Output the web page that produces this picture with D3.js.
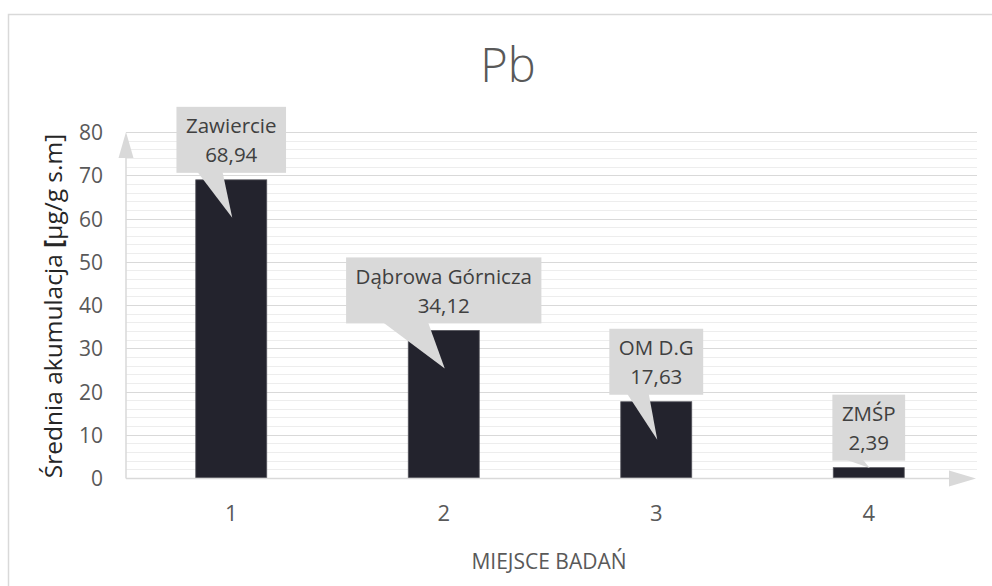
<!DOCTYPE html>
<html>
<head>
<meta charset="utf-8">
<script src="https://cdn.jsdelivr.net/npm/d3@7/dist/d3.min.js"></script>
<style>
  html, body { margin: 0; padding: 0; background: #ffffff; }
  svg { display: block; font-family: "Open Sans", "Noto Sans", sans-serif; }
</style>
</head>
<body>
<svg id="chart" width="992" height="586"></svg>
<script>
// Sampling sites (x categories), mean Pb accumulation and the callout names
const sites = ["1", "2", "3", "4"];
const values = [68.94, 34.12, 17.63, 2.39];
const siteNames = ["Zawiercie", "Dąbrowa Górnicza", "OM D.G", "ZMŚP"];
const yTicks = [0, 10, 20, 30, 40, 50, 60, 70, 80];
const yMinorTicks = d3.range(0, 81, 2);

const chartTitle = "Pb";
const xTitle = "MIEJSCE BADAŃ";
const yTitleParts = ["Średnia akumulacja ", "[", "µg/g s.m]"];

const svg = d3.select("#chart");

const plot = { left: 125, right: 975, top: 132, bottom: 478 };

const x = d3.scaleBand()
  .domain(sites)
  .range([plot.left, plot.right])
  .paddingInner(0.666)
  .paddingOuter(0.333);

const y = d3.scaleLinear()
  .domain([0, 80])
  .range([plot.bottom, plot.top]);

const fmt = v => d3.format(".2f")(v).replace(".", ",");

// Chart area frame
svg.append("path")
  .attr("d", "M8.5,586 V14.5 H992")
  .attr("fill", "none")
  .attr("stroke", "#d9d9d9")
  .attr("stroke-width", 1.5);

// Title
svg.append("text")
  .attr("x", 508)
  .attr("y", 82)
  .attr("text-anchor", "middle")
  .attr("font-size", 47)
  .attr("font-weight", 300)
  .attr("fill", "#595959")
  .text(chartTitle);

// Gridlines: minor every 2, major every 10
const grid = svg.append("g");
grid.selectAll("line.minor")
  .data(yMinorTicks.filter(d => d % 10 !== 0))
  .join("line")
  .attr("class", "minor")
  .attr("x1", plot.left + 1).attr("x2", 977)
  .attr("y1", d => Math.round(y(d)) + 0.5)
  .attr("y2", d => Math.round(y(d)) + 0.5)
  .attr("stroke", "#ededed")
  .attr("stroke-width", 1);
grid.selectAll("line.major")
  .data(yTicks.filter(d => d > 0))
  .join("line")
  .attr("class", "major")
  .attr("x1", plot.left + 1).attr("x2", 977)
  .attr("y1", d => Math.round(y(d)) + 0.5)
  .attr("y2", d => Math.round(y(d)) + 0.5)
  .attr("stroke", "#d9d9d9")
  .attr("stroke-width", 1.2);

// Y axis labels
const yAxis = d3.axisLeft(y).tickValues(yTicks).tickSize(0).tickPadding(0);
const yg = svg.append("g")
  .attr("transform", `translate(${plot.left - 22},0)`)
  .call(yAxis);
yg.select(".domain").remove();
yg.selectAll("text")
  .attr("font-family", "\"Open Sans\", sans-serif")
  .attr("font-size", 21)
  .attr("fill", "#595959")
  .attr("dy", "0.36em");

// X axis labels
const xAxis = d3.axisBottom(x).tickSize(0).tickPadding(0);
const xg = svg.append("g")
  .attr("transform", `translate(0,${plot.bottom + 35})`)
  .call(xAxis);
xg.select(".domain").remove();
xg.selectAll("text")
  .attr("font-family", "\"Open Sans\", sans-serif")
  .attr("font-size", 22)
  .attr("fill", "#595959")
  .attr("dy", "0.36em");

// Bars
svg.append("g")
  .selectAll("rect")
  .data(values)
  .join("rect")
  .attr("x", (d, i) => x(sites[i]))
  .attr("width", x.bandwidth())
  .attr("y", d => y(d))
  .attr("height", d => y(0) - y(d))
  .attr("fill", "#23232d")
  .attr("stroke", "#55555c")
  .attr("stroke-width", 0.8);

// Axis lines with arrow heads
const axisColor = "#d9d9d9";
svg.append("line")
  .attr("x1", plot.left + 1).attr("x2", 950)
  .attr("y1", plot.bottom + 0.5).attr("y2", plot.bottom + 0.5)
  .attr("stroke", axisColor).attr("stroke-width", 1.5);
svg.append("path")
  .attr("d", `M949,${plot.bottom - 7.5} L976,${plot.bottom + 0.5} L949,${plot.bottom + 8.5} Z`)
  .attr("fill", axisColor);
svg.append("line")
  .attr("x1", plot.left + 1).attr("x2", plot.left + 1)
  .attr("y1", plot.bottom + 0.5).attr("y2", plot.top + 20)
  .attr("stroke", axisColor).attr("stroke-width", 1.5);
svg.append("path")
  .attr("d", `M${plot.left - 6.5},${plot.top + 26} L${plot.left + 1},${plot.top} L${plot.left + 8.5},${plot.top + 26} Z`)
  .attr("fill", axisColor);

// Callouts with site name and value
const callouts = svg.append("g");
values.forEach((v, i) => {
  const cx = x(sites[i]) + x.bandwidth() / 2;
  const g = callouts.append("g");
  const box = g.append("rect").attr("fill", "#d9d9d9");
  const wedge = g.append("path").attr("fill", "#d9d9d9");
  const lines = [siteNames[i], fmt(v)];
  const bottom = y(v) - 7;
  const top = bottom - 66;
  const texts = g.selectAll("text")
    .data(lines)
    .join("text")
    .attr("x", cx)
    .attr("y", (d, k) => top + 19 + k * 29)
    .attr("dy", "0.36em")
    .attr("text-anchor", "middle")
    .attr("font-size", 20.5)
    .attr("fill", "#404040")
    .text(d => d);
  let w = 0;
  texts.each(function () { w = Math.max(w, this.getComputedTextLength()); });
  w += 19;
  const left = cx - w / 2;
  box.attr("x", left).attr("y", top).attr("width", w).attr("height", 66);
  const tipY = Math.min(y(v) + 38, y(0) - 10);
  wedge.attr("d", `M${left + 0.19 * w},${bottom - 1} L${cx + 1},${tipY} L${left + 0.42 * w},${bottom - 1} Z`);
});

// Axis titles
svg.append("text")
  .attr("x", 549)
  .attr("y", 561)
  .attr("dy", "0.36em")
  .attr("text-anchor", "middle")
  .attr("font-size", 21)
  .attr("fill", "#595959")
  .text(xTitle);

svg.append("text")
  .attr("transform", "translate(62,306) rotate(-90)")
  .attr("text-anchor", "middle")
  .attr("font-size", 24.5)
  .attr("fill", "#262626")
  .selectAll("tspan")
  .data(yTitleParts)
  .join("tspan")
  .attr("font-weight", (d, i) => i === 1 ? 700 : 400)
  .text(d => d);
</script>
</body>
</html>
